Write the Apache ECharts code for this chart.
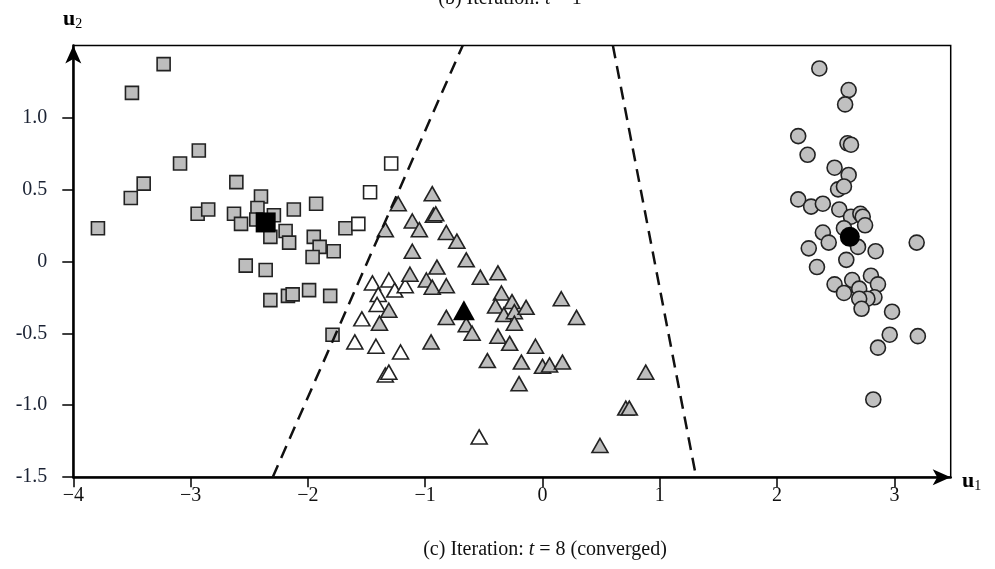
<!DOCTYPE html>
<html>
<head>
<meta charset="utf-8">
<script src="https://cdn.jsdelivr.net/npm/echarts@6/dist/echarts.min.js"></script>
<style>html,body{margin:0;padding:0;background:#fff;}#chart{width:995px;height:569px;}</style>
</head>
<body>
<div id="chart"></div>
<script>
// ---- data (u1, u2) ----
const squaresGray = [
  [-3.79,0.23],[-3.50,1.17],[-3.23,1.37],[-3.09,0.68],[-2.93,0.77],[-3.51,0.44],[-3.40,0.54],
  [-2.94,0.33],[-2.85,0.36],[-2.61,0.55],[-2.63,0.33],[-2.57,0.26],[-2.40,0.45],[-2.43,0.37],
  [-2.44,0.29],[-2.29,0.32],[-2.32,0.17],[-2.19,0.21],[-2.16,0.13],[-2.12,0.36],[-1.93,0.40],
  [-1.95,0.17],[-1.90,0.10],[-1.96,0.03],[-1.78,0.07],[-2.53,-0.03],[-2.36,-0.06],[-2.32,-0.27],
  [-2.17,-0.24],[-2.13,-0.23],[-1.99,-0.20],[-1.81,-0.24],[-1.68,0.23],[-1.79,-0.51]
];
const squaresWhite = [[-1.29,0.68],[-1.47,0.48],[-1.57,0.26]];
const squareCenter = [[-2.36,0.27]];
const trianglesGray = [
  [-1.23,0.40],[-0.94,0.47],[-1.34,0.22],[-1.11,0.28],[-1.05,0.22],[-0.93,0.32],[-0.91,0.33],
  [-0.82,0.20],[-0.73,0.14],[-1.11,0.07],[-0.65,0.01],[-0.90,-0.04],[-1.13,-0.09],[-0.99,-0.13],
  [-0.94,-0.18],[-0.82,-0.17],[-0.53,-0.11],[-0.38,-0.08],[-0.35,-0.22],[-0.40,-0.31],[-0.26,-0.28],
  [-0.33,-0.37],[-0.24,-0.35],[-0.14,-0.32],[-0.24,-0.43],[0.16,-0.26],[0.29,-0.39],[-1.31,-0.34],
  [-1.39,-0.43],[-0.82,-0.39],[-0.65,-0.44],[-0.60,-0.50],[-0.95,-0.56],[-0.38,-0.52],[-0.28,-0.57],
  [-0.06,-0.59],[-0.47,-0.69],[-0.18,-0.70],[0.00,-0.73],[0.06,-0.72],[0.17,-0.70],[-0.20,-0.85],
  [0.71,-1.02],[0.74,-1.02],[0.88,-0.77],[0.49,-1.28]
];
const trianglesWhite = [
  [-1.45,-0.15],[-1.31,-0.13],[-1.26,-0.20],[-1.17,-0.17],[-1.40,-0.23],[-1.41,-0.30],[-1.54,-0.40],
  [-1.60,-0.56],[-1.42,-0.59],[-1.21,-0.63],[-1.34,-0.79],[-1.31,-0.77],[-0.54,-1.22]
];
const triangleCenter = [[-0.67,-0.34]];
const circlesGray = [
  [2.36,1.34],[2.61,1.19],[2.58,1.09],[2.18,0.87],[2.26,0.74],[2.60,0.82],[2.63,0.81],[2.49,0.65],
  [2.61,0.60],[2.52,0.50],[2.57,0.52],[2.18,0.43],[2.29,0.38],[2.39,0.40],[2.53,0.36],[2.63,0.31],
  [2.71,0.33],[2.73,0.31],[2.75,0.25],[2.57,0.23],[2.39,0.20],[2.44,0.13],[2.27,0.09],[2.69,0.10],
  [2.84,0.07],[3.19,0.13],[2.59,0.01],[2.34,-0.04],[2.49,-0.16],[2.57,-0.22],[2.64,-0.13],[2.70,-0.19],
  [2.80,-0.10],[2.86,-0.16],[2.83,-0.25],[2.77,-0.26],[2.70,-0.26],[2.72,-0.33],[2.98,-0.35],
  [2.96,-0.51],[2.86,-0.60],[3.20,-0.52],[2.82,-0.96]
];
const circleCenter = [[2.62,0.17]];
const boundaryLeft = [[-2.30,-1.5],[-0.68,1.5]];
const boundaryRight = [[0.60,1.5],[1.31,-1.5]];
const xTicks = [-4,-3,-2,-1,0,1,2,3];
const xTickLabels = ['\u22124','\u22123','\u22122','\u22121','0','1','2','3'];
const yTicks = [-1.5,-1,-0.5,0,0.5,1];
const yTickLabels = ['-1.5','-1.0','-0.5','0','0.5','1.0'];

const FONT = '"Liberation Serif","Times New Roman",serif';
const chart = echarts.init(document.getElementById('chart'), null, {renderer:'canvas'});
const mk = (fill) => ({color: fill, borderColor: '#222', borderWidth: 1.6, opacity: 1});
const lbl = (ticks, labels) => (v) => {
  const i = ticks.findIndex(t => Math.abs(t - v) < 1e-6);
  return i >= 0 ? labels[i] : '';
};
chart.setOption({
  animation: false,
  backgroundColor: '#fff',
  grid: {left: 73.3, top: 45.4, right: 44.3, bottom: 91.8, show: true, borderColor: '#000', borderWidth: 1.5, backgroundColor: 'transparent'},
  xAxis: {
    type: 'value', min: -4, max: 3.48, interval: 1,
    axisLine: {onZero: false, lineStyle: {color: '#000', width: 2.5}, symbol: ['none','arrow'], symbolSize: [12, 18]},
    axisTick: {show: true, length: 10, lineStyle: {color: '#000', width: 1.5}, customValues: xTicks},
    axisLabel: {customValues: xTicks, formatter: lbl(xTicks, xTickLabels), fontFamily: FONT, fontSize: 20, color: '#111', margin: 9},
    splitLine: {show: false}
  },
  yAxis: {
    type: 'value', min: -1.5, max: 1.5, interval: 0.5,
    axisLine: {onZero: false, lineStyle: {color: '#000', width: 2.5}, symbol: ['none','arrow'], symbolSize: [12, 18]},
    axisTick: {show: true, length: 11, lineStyle: {color: '#000', width: 1.5}, customValues: yTicks},
    axisLabel: {customValues: yTicks, formatter: lbl(yTicks, yTickLabels), fontFamily: FONT, fontSize: 20, color: '#1a2233', margin: 26},
    splitLine: {show: false}
  },
  series: [
    {type: 'scatter', symbol: 'rect', symbolSize: 13, data: squaresGray, itemStyle: mk('#bdbdbd'), z: 3},
    {type: 'scatter', symbol: 'rect', symbolSize: 13, data: squaresWhite, itemStyle: mk('#ffffff'), z: 3},
    {type: 'scatter', symbol: 'triangle', symbolSize: [16, 14], data: trianglesWhite, itemStyle: mk('#ffffff'), z: 3},
    {type: 'scatter', symbol: 'triangle', symbolSize: [16, 14], data: trianglesGray, itemStyle: mk('#bdbdbd'), z: 3},
    {type: 'scatter', symbol: 'circle', symbolSize: 15, data: circlesGray, itemStyle: mk('#c0c0c0'), z: 3},
    {type: 'scatter', symbol: 'rect', symbolSize: 20, data: squareCenter, itemStyle: {color: '#000', opacity: 1}, z: 4},
    {type: 'scatter', symbol: 'triangle', symbolSize: [22, 20], data: triangleCenter, itemStyle: {color: '#000', opacity: 1}, z: 4},
    {type: 'scatter', symbol: 'circle', symbolSize: 20, data: circleCenter, itemStyle: {color: '#000', opacity: 1}, z: 4},
    {type: 'line', data: boundaryLeft, symbol: 'none', lineStyle: {color: '#111', width: 2.5, type: [13, 8]}, z: 5},
    {type: 'line', data: boundaryRight, symbol: 'none', lineStyle: {color: '#111', width: 2.5, type: [13, 8]}, z: 5}
  ],
  graphic: [
    {type: 'text', left: 63, top: 8, style: {text: '{b|u}{s|2}', rich: {b: {fontFamily: FONT, fontWeight: 'bold', fontSize: 22, fill: '#000'}, s: {fontFamily: FONT, fontSize: 14, fill: '#000', padding: [10,0,0,0]}}}},
    {type: 'text', left: 962, top: 470, style: {text: '{b|u}{s|1}', rich: {b: {fontFamily: FONT, fontWeight: 'bold', fontSize: 22, fill: '#000'}, s: {fontFamily: FONT, fontSize: 14, fill: '#000', padding: [10,0,0,0]}}}},
    {type: 'text', x: 510, y: 9, style: {text: '{n|(b) Iteration: }{i|t}{n| = 1}', align: 'center', verticalAlign: 'bottom', rich: {n: {fontFamily: FONT, fontSize: 20, fill: '#111'}, i: {fontFamily: FONT, fontSize: 20, fontStyle: 'italic', fill: '#111'}}}},
    {type: 'text', x: 545, y: 550, style: {text: '{n|(c) Iteration: }{i|t}{n| = 8 (converged)}', align: 'center', verticalAlign: 'middle', rich: {n: {fontFamily: FONT, fontSize: 20, fill: '#111'}, i: {fontFamily: FONT, fontSize: 20, fontStyle: 'italic', fill: '#111'}}}}
  ]
});
</script>
</body>
</html>
